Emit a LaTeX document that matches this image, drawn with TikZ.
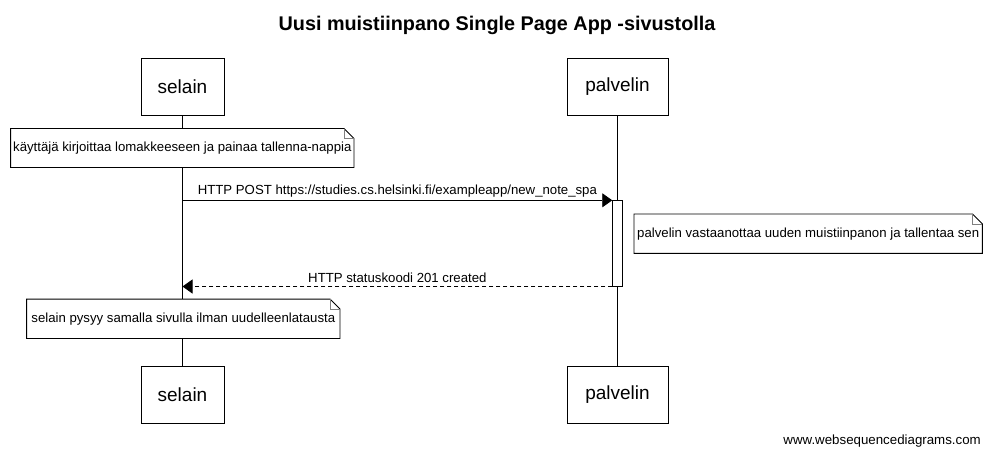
\documentclass[tikz,border=0pt]{standalone}
\usepackage{fontspec}
\setmainfont{Liberation Sans}
\usetikzlibrary{arrows.meta}
\begin{document}
\begin{tikzpicture}[x=1pt,y=-1pt,
  actor/.style={draw,fill=white,line width=0.9pt,minimum height=57pt,inner sep=0pt,font=\fontsize{19}{22}\selectfont},
  notebox/.style={fill=white,inner sep=0pt,font=\fontsize{13.2}{15}\selectfont},
  notefold/.style={line width=0.9pt},
  msg/.style={line width=0.9pt,-{Triangle[length=10pt,width=14pt]}},
  lbl/.style={font=\fontsize{13.2}{15}\selectfont,inner sep=0pt},
  life/.style={line width=0.9pt}]
\useasboundingbox (0,0) rectangle (992,456);
\fill[white] (0,0) rectangle (992,456);
% title
\node[font=\bfseries\fontsize{19.8}{22}\selectfont,inner sep=0pt] (title) at (497,25) {Uusi muistiinpano Single Page App -sivustolla};
% actors
\node[actor,minimum width=83pt] (s1) at (182.5,86.5) {selain};
\node[actor,minimum width=101pt] (p1) at (617.5,86.5) {palvelin};
\node[actor,minimum width=83pt] (s2) at (182.5,394.5) {selain};
\node[actor,minimum width=101pt] (p2) at (617.5,394.5) {palvelin};
% lifelines
\draw[life] (s1.south) -- (s2.north);
\draw[life] (p1.south) -- (p2.north);
% note 1
\node[notebox,minimum width=343pt,minimum height=38.6pt] (n1) at (182.3,148) {käyttäjä kirjoittaa lomakkeeseen ja painaa tallenna-nappia};
\draw[notefold] (n1.south west) -- (n1.north west) -- ([xshift=-10pt]n1.north east) -- ([yshift=-10pt]n1.north east) -- (n1.south east) -- cycle;
\draw[notefold,line width=0.6pt,gray] ([xshift=-10pt]n1.north east) -- ([xshift=-10pt,yshift=-10pt]n1.north east) -- ([yshift=-10pt]n1.north east);
% activation
\node[draw,fill=white,line width=0.9pt,minimum width=10pt,minimum height=85.3pt,inner sep=0pt] (act) at (617.7,243.4) {};
% message 1
\coordinate (m1s) at (s1.south |- act.north);
\draw[msg] (m1s) -- (act.north west) node[lbl,midway,above=3pt] (l1) {HTTP POST https://studies.cs.helsinki.fi/exampleapp/new\_note\_spa};
% note 2
\node[notebox,minimum width=348pt,minimum height=39pt] (n2) at (808.2,233.7) {palvelin vastaanottaa uuden muistiinpanon ja tallentaa sen};
\draw[notefold] (n2.south west) -- (n2.north west) -- ([xshift=-10pt]n2.north east) -- ([yshift=-10pt]n2.north east) -- (n2.south east) -- cycle;
\draw[notefold,line width=0.6pt,gray] ([xshift=-10pt]n2.north east) -- ([xshift=-10pt,yshift=-10pt]n2.north east) -- ([yshift=-10pt]n2.north east);
% message 2
\coordinate (m2e) at (s1.south |- act.south);
\draw[msg,dash pattern=on 4pt off 3pt] (act.south west) -- (m2e) node[lbl,midway,above=3pt] (l2) {HTTP statuskoodi 201 created};
% note 3
\node[notebox,minimum width=313pt,minimum height=39pt] (n3) at (183.3,318.8) {selain pysyy samalla sivulla ilman uudelleenlatausta};
\draw[notefold] (n3.south west) -- (n3.north west) -- ([xshift=-10pt]n3.north east) -- ([yshift=-10pt]n3.north east) -- (n3.south east) -- cycle;
\draw[notefold,line width=0.6pt,gray] ([xshift=-10pt]n3.north east) -- ([xshift=-10pt,yshift=-10pt]n3.north east) -- ([yshift=-10pt]n3.north east);
% footer
\node[font=\fontsize{13.3}{15}\selectfont,inner sep=0pt,anchor=east] (foot) at (981,441) {www.websequencediagrams.com};
\end{tikzpicture}
\end{document}
